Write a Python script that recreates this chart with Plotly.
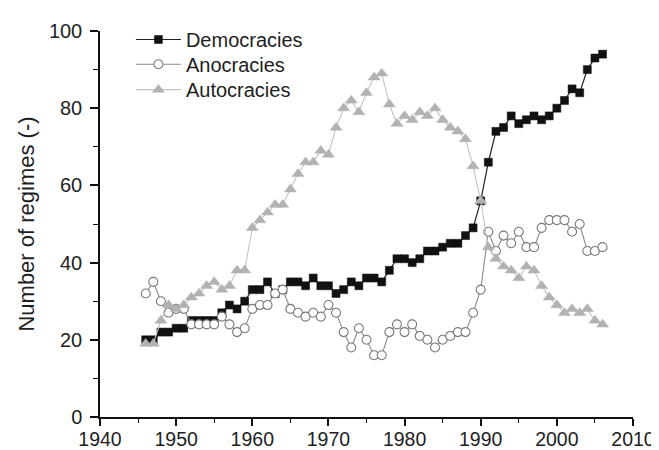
import plotly.graph_objects as go

years = list(range(1946, 2007))

democracies = [20, 20, 22, 22, 23, 23, 25, 25, 25, 25,
               27, 29, 28, 30, 33, 33, 35, 32, 33, 35,
               35, 34, 36, 34, 34, 32, 33, 35, 34, 36,
               36, 35, 38, 41, 41, 40, 41, 43, 43, 44,
               45, 45, 47, 49, 56, 66, 74, 75, 78, 76,
               77, 78, 77, 78, 80, 82, 85, 84, 90, 93,
               94]

anocracies = [32, 35, 30, 27, 28, 28, 24, 24, 24, 24,
              26, 24, 22, 23, 28, 29, 29, 32, 33, 28,
              27, 26, 27, 26, 29, 27, 22, 18, 23, 20,
              16, 16, 22, 24, 22, 24, 21, 20, 18, 20,
              21, 22, 22, 27, 33, 48, 43, 47, 45, 48,
              44, 44, 49, 51, 51, 51, 48, 50, 43, 43,
              44]

autocracies = [19, 19, 25, 29, 28, 29, 31, 32, 34, 35,
               33, 34, 38, 38, 49, 51, 53, 55, 55, 59,
               63, 66, 66, 69, 68, 75, 80, 82, 79, 84,
               88, 89, 81, 76, 78, 77, 79, 78, 80, 77,
               75, 74, 72, 65, 56, 44, 41, 39, 38, 36,
               39, 38, 34, 31, 29, 27, 28, 27, 28, 25,
               24]

x_ticks = [1940, 1950, 1960, 1970, 1980, 1990, 2000, 2010]
y_ticks = [0, 20, 40, 60, 80, 100]

FONT = "Liberation Sans, Arial, Helvetica, sans-serif"
TXT = "#1e1e1e"

fig = go.Figure()
fig.add_trace(go.Scatter(
    x=years, y=democracies, name="Democracies", mode="lines+markers",
    line=dict(color="#222222", width=1.2),
    marker=dict(symbol="square", size=8, color="#111111",
                line=dict(color="#111111", width=0.5)),
    legend="legend",
))
fig.add_trace(go.Scatter(
    x=years, y=anocracies, name="Anocracies", mode="lines+markers",
    line=dict(color="#8a8a8a", width=1.1),
    marker=dict(symbol="circle", size=9, color="white",
                line=dict(color="#7a7a7a", width=1.1)),
    legend="legend2",
))
fig.add_trace(go.Scatter(
    x=years, y=autocracies, name="Autocracies", mode="lines+markers",
    line=dict(color="#c4c4c4", width=1.1),
    marker=dict(symbol="triangle-up", size=10.5, color="#b2b2b2",
                line=dict(color="#b2b2b2", width=0.5)),
    legend="legend3",
))

# the page body has an 8px margin, so the figure is drawn 8px smaller
# and the left/top margins are reduced by 8px to keep the plot area in place
leg_common = dict(x=0.058, xanchor="left", yanchor="middle",
                  bgcolor="rgba(0,0,0,0)", font=dict(size=20, color=TXT),
                  itemwidth=45)

fig.update_layout(
    width=651, height=442,
    margin=dict(l=92, r=26, t=14, b=33),
    paper_bgcolor="white", plot_bgcolor="white",
    font=dict(family=FONT, size=20, color=TXT),
    showlegend=True,
    legend=dict(y=0.978, **leg_common),
    legend2=dict(y=0.914, **leg_common),
    legend3=dict(y=0.848, **leg_common),
    xaxis=dict(range=[1940, 2010], tickvals=x_ticks, showgrid=False,
               zeroline=False, showline=True, linecolor="#111111", linewidth=1.5,
               ticks="outside", ticklen=7, tickwidth=1.5, tickcolor="#111111",
               minor=dict(ticks="outside", ticklen=4, tickwidth=1.2,
                          tickcolor="#111111", dtick=5, tick0=1940),
               tickfont=dict(size=19.5, color=TXT), automargin=False,
               ticklabelstandoff=-3),
    yaxis=dict(range=[0, 100], tickvals=y_ticks, showgrid=False,
               zeroline=False, showline=True, linecolor="#111111", linewidth=1.5,
               ticks="outside", ticklen=8, tickwidth=1.5, tickcolor="#111111",
               minor=dict(ticks="outside", ticklen=5, tickwidth=1.2,
                          tickcolor="#111111", dtick=10, tick0=0),
               tickfont=dict(size=20, color=TXT), automargin=False,
               ticklabelstandoff=4,
               title=dict(text="Number of regimes (-)", font=dict(size=22, color=TXT),
                          standoff=8)),
)

fig.write_html("out.html")
